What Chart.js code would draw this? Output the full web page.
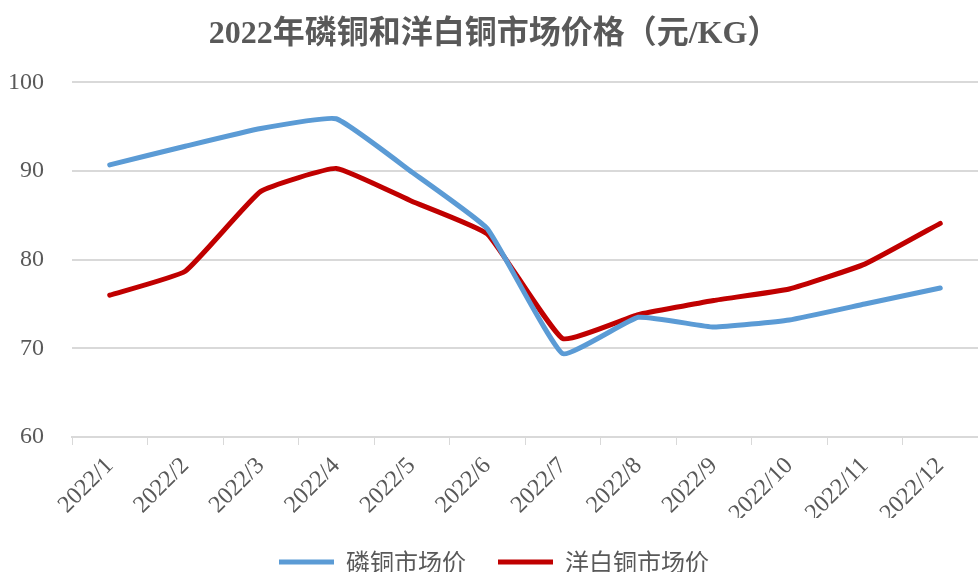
<!DOCTYPE html>
<html>
<head>
<meta charset="utf-8">
<script src="https://cdn.jsdelivr.net/npm/chart.js@4.4.0/dist/chart.umd.min.js"></script>
<style>
  html, body { margin: 0; padding: 0; background: #fff; }
  #wrap { width: 978px; height: 572px; }
</style>
</head>
<body>
<div id="wrap"><canvas id="myChart" width="978" height="572"></canvas></div>
<script>
// months and prices
const months = ['2022/1', '2022/2', '2022/3', '2022/4', '2022/5', '2022/6',
                '2022/7', '2022/8', '2022/9', '2022/10', '2022/11', '2022/12'];
const phosphorCopper = [90.7, 92.8, 94.8, 95.9, 89.9, 83.5, 69.4, 73.5, 72.4, 73.2, 75.0, 76.8];
const nickelSilver = [76.0, 78.7, 87.7, 90.3, 86.6, 82.9, 71.1, 73.8, 75.4, 76.7, 79.5, 84.1];
const yTicks = [60, 70, 80, 90, 100];

const textColor = '#595959';
const serif = "'Liberation Serif', 'Noto Sans CJK SC', serif";
const cjk = "'Noto Sans CJK SC', sans-serif";

// keep the wide gap between legend items but not the tall legend box
const legendHeight = {
    id: 'legendHeight',
    beforeInit(chart) {
        const fit = chart.legend.fit;
        chart.legend.fit = function() {
            fit.call(this);
            this.height = 54;
        };
    }
};

const ctx = document.getElementById('myChart').getContext('2d');
const myChart = new Chart(ctx, {
    type: 'line',
    data: {
        labels: months,
        datasets: [
            {
                label: '磷铜市场价',
                data: phosphorCopper,
                borderColor: '#5B9BD5',
                backgroundColor: '#5B9BD5',
                borderWidth: 5,
                pointRadius: 0,
                tension: 0.12,
                borderCapStyle: 'round'
            },
            {
                label: '洋白铜市场价',
                data: nickelSilver,
                borderColor: '#C00000',
                backgroundColor: '#C00000',
                borderWidth: 5,
                pointRadius: 0,
                tension: 0.12,
                borderCapStyle: 'round'
            }
        ]
    },
    options: {
        responsive: false,
        animation: false,
        layout: { padding: { left: 10, right: 0, top: 0, bottom: 0 } },
        plugins: {
            title: {
                display: true,
                text: '2022年磷铜和洋白铜市场价格（元/KG）',
                color: textColor,
                font: { family: serif, size: 32, weight: 'bold' },
                padding: { top: 16, bottom: 28 }
            },
            legend: {
                position: 'bottom',
                labels: {
                    color: textColor,
                    font: { family: cjk, size: 24 },
                    usePointStyle: true,
                    pointStyle: 'line',
                    pointStyleWidth: 55,
                    padding: 32
                }
            },
            tooltip: { enabled: false }
        },
        scales: {
            x: {
                offset: true,
                afterFit: axis => { axis.height = 81; },
                grid: {
                    offset: true,
                    drawOnChartArea: false,
                    color: '#d9d9d9',
                    tickLength: 8
                },
                border: { color: '#d9d9d9', width: 2 },
                ticks: {
                    color: textColor,
                    font: { family: serif, size: 24 },
                    maxRotation: 45,
                    minRotation: 45,
                    padding: 7
                }
            },
            y: {
                min: 60,
                max: 100,
                afterBuildTicks: axis => { axis.ticks = yTicks.map(v => ({ value: v })); },
                afterFit: axis => { axis.width = 62; },
                grid: { color: '#d9d9d9', lineWidth: 2, drawTicks: false },
                border: { display: false },
                ticks: {
                    color: textColor,
                    font: { family: serif, size: 24 },
                    padding: 28
                }
            }
        }
    },
    plugins: [legendHeight]
});
</script>
</body>
</html>
